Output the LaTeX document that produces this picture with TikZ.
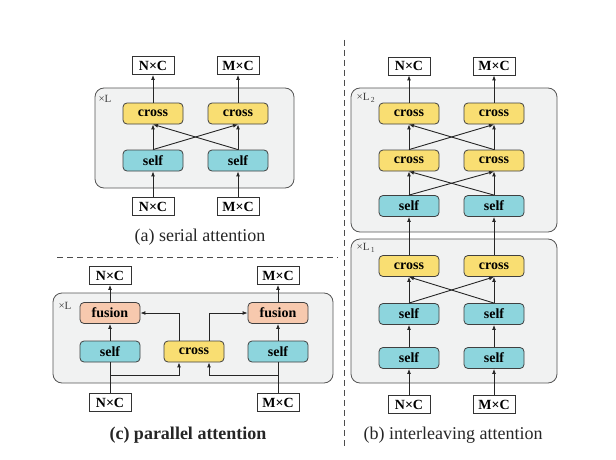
\documentclass[tikz,border=0pt]{standalone}
\usepackage{fontspec}
\setmainfont{Liberation Serif}
\usetikzlibrary{positioning, arrows.meta}
\definecolor{crossyel}{HTML}{F9DE72}
\definecolor{selfcyan}{HTML}{8DD5DD}
\definecolor{fusorange}{HTML}{F7C9AE}
\definecolor{layergray}{HTML}{F1F2F2}
\definecolor{linegray}{HTML}{555555}

\begin{document}
\begin{tikzpicture}[x=1pt,y=-1pt]
\tikzstyle{blk}=[rounded corners=4pt, draw=black!75, thick, minimum width=60pt, minimum height=21pt, inner sep=0pt, font=\bfseries\fontsize{14}{15}\selectfont]
\tikzstyle{crossb}=[blk, fill=crossyel]
\tikzstyle{selfb}=[blk, fill=selfcyan]
\tikzstyle{fusb}=[blk, fill=fusorange]
\tikzstyle{io}=[draw=black!80, thick, fill=white, minimum width=42pt, minimum height=18pt, inner sep=0pt, font=\bfseries\fontsize{14}{15}\selectfont]
\tikzstyle{layer}=[draw=linegray, fill=layergray, rounded corners=9pt, thick]
\tikzstyle{reps}=[font=\fontsize{11}{12}\selectfont, text=black!75]
\tikzstyle{caption}=[font=\fontsize{18}{20}\selectfont, text=black!85]
\tikzstyle{connect}=[-{Latex[length=5pt,width=4pt]}, line width=0.9pt, black!85]
\tikzstyle{sep}=[dash pattern=on 6pt off 4pt, thick, black!70]
\useasboundingbox (0,0) rectangle (616,460);

% separators
\draw[sep] (57,257) -- (338,257);
\draw[sep] (344,40) -- (344,448);

% (a) serial attention
\draw[layer] (95,88) rectangle (294,188);
\node[reps] (arep) at (105,99) {×L};
\node[io] (aon) at (153,65.5) {N×C};
\node[io] (aom) at (238,65.5) {M×C};
\node[crossb] (acn) at (153,113.5) {cross};
\node[crossb] (acm) at (238,113.5) {cross};
\node[selfb] (asn) at (153,160.5) {self};
\node[selfb] (asm) at (238,160.5) {self};
\node[io] (ain) at (153,206.5) {N×C};
\node[io] (aim) at (238,206.5) {M×C};
\node[caption] (capa) at (200,237) {(a) serial attention};
\path (ain) edge [connect] (asn)
      (aim) edge [connect] (asm)
      (asn) edge [connect] (acn)
      (asm) edge [connect] (acm)
      (asn.north) edge [connect] (acm.south)
      (asm.north) edge [connect] (acn.south)
      (acn) edge [connect] (aon)
      (acm) edge [connect] (aom);

% (c) parallel attention
\draw[layer] (53,293) rectangle (333,383);
\node[reps] (crep) at (65,306) {×L};
\node[io] (con) at (110,275.5) {N×C};
\node[io] (com) at (278,275.5) {M×C};
\node[fusb] (cfn) at (110,313) {fusion};
\node[fusb] (cfm) at (278,313) {fusion};
\node[selfb] (csn) at (110,351.5) {self};
\node[selfb] (csm) at (278,351.5) {self};
\node[crossb] (cc) at (194,351.5) {cross};
\node[io] (cin) at (110,402.5) {N×C};
\node[io] (cim) at (278,402.5) {M×C};
\coordinate (cjn) at (110,375);
\coordinate (cjm) at (278,375);
\node[caption, font=\bfseries\fontsize{18}{20}\selectfont] (capc) at (188,435) {(c) parallel attention};
\draw[line width=0.9pt, black!85] (cin) -- (csn);
\draw[line width=0.9pt, black!85] (cim) -- (csm);
\draw[connect] (cjn) -| ([xshift=-15pt]cc.south);
\draw[connect] (cjm) -| ([xshift=15pt]cc.south);
\draw[connect] ([xshift=-15pt]cc.north) |- (cfn.east);
\draw[connect] ([xshift=15pt]cc.north) |- (cfm.west);
\path (csn) edge [connect] (cfn)
      (csm) edge [connect] (cfm)
      (cfn) edge [connect] (con)
      (cfm) edge [connect] (com);

% (b) interleaving attention
\draw[layer] (351,88) rectangle (557,232);
\draw[layer] (351,239) rectangle (557,383);
\node[reps] (brep2) at (366,98) {×L\textsubscript{\,2}};
\node[reps] (brep1) at (366,248) {×L\textsubscript{\,1}};
\node[io] (bon) at (409,66) {N×C};
\node[io] (bom) at (494,66) {M×C};
\node[crossb] (btn) at (409,113.5) {cross};
\node[crossb] (btm) at (494,113.5) {cross};
\node[crossb] (bmn) at (409,160.5) {cross};
\node[crossb] (bmm) at (494,160.5) {cross};
\node[selfb] (bun) at (409,206) {self};
\node[selfb] (bum) at (494,206) {self};
\node[crossb] (bcn) at (409,266) {cross};
\node[crossb] (bcm) at (494,266) {cross};
\node[selfb] (bsn) at (409,314) {self};
\node[selfb] (bsm) at (494,314) {self};
\node[selfb] (ben) at (409,358) {self};
\node[selfb] (bem) at (494,358) {self};
\node[io] (bin) at (409,404.5) {N×C};
\node[io] (bim) at (494,404.5) {M×C};
\node[caption] (capb) at (453,435) {(b) interleaving attention};
\path (bin) edge [connect] (ben)
      (bim) edge [connect] (bem)
      (ben) edge [connect] (bsn)
      (bem) edge [connect] (bsm)
      (bsn) edge [connect] (bcn)
      (bsm) edge [connect] (bcm)
      (bsn.north) edge [connect] (bcm.south)
      (bsm.north) edge [connect] (bcn.south)
      (bcn) edge [connect] (bun)
      (bcm) edge [connect] (bum)
      (bun) edge [connect] (bmn)
      (bum) edge [connect] (bmm)
      (bun.north) edge [connect] (bmm.south)
      (bum.north) edge [connect] (bmn.south)
      (bmn) edge [connect] (btn)
      (bmm) edge [connect] (btm)
      (bmn.north) edge [connect] (btm.south)
      (bmm.north) edge [connect] (btn.south)
      (btn) edge [connect] (bon)
      (btm) edge [connect] (bom);
\end{tikzpicture}
\end{document}
